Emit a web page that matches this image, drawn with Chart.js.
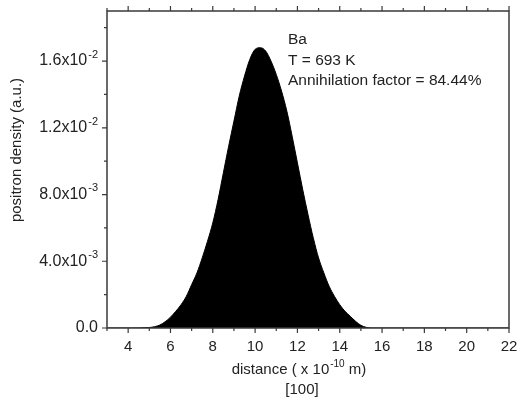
<!DOCTYPE html>
<html>
<head>
<meta charset="utf-8">
<script src="https://cdn.jsdelivr.net/npm/chart.js@4"></script>
<style>
  html, body { margin: 0; padding: 0; background: #fff; }
  #wrap { width: 519px; height: 405px; }
</style>
</head>
<body>
<div id="wrap"><canvas id="myChart"></canvas></div>
<script>
// Positron density profile along [100]
const distance = [3, 4, 5, 5.25, 5.5, 5.75, 6, 6.25, 6.5, 6.75, 7, 7.25, 7.5, 7.75, 8, 8.25, 8.5, 8.75,
	9, 9.25, 9.5, 9.75, 10, 10.25, 10.5, 10.75, 11, 11.25, 11.5, 11.75, 12, 12.25, 12.5, 12.75,
	13, 13.25, 13.5, 13.75, 14, 14.25, 14.5, 14.75, 15, 15.25, 15.5, 16, 18, 20, 22];
const density = [0, 0, 0.00003, 0.00008, 0.00018, 0.00038, 0.00065, 0.0010, 0.0014, 0.0019, 0.0026, 0.0033,
	0.0042, 0.0052, 0.0063, 0.0077, 0.0093, 0.0109, 0.0124, 0.0139, 0.0151, 0.0161, 0.0167, 0.0168,
	0.0166, 0.0160, 0.0152, 0.0142, 0.0130, 0.0115, 0.0099, 0.0083, 0.0068, 0.0054, 0.0042, 0.0033,
	0.0025, 0.0019, 0.0014, 0.0010, 0.0007, 0.0004, 0.00016, 0.00004, 0, 0, 0, 0, 0];

const xMajor = [4, 6, 8, 10, 12, 14, 16, 18, 20, 22];
const xMinor = [3, 5, 7, 9, 11, 13, 15, 17, 19, 21];
const yMajor = [0, 0.004, 0.008, 0.012, 0.016];
const yMajorLabels = [['0.0', ''], ['4.0x10', '-3'], ['8.0x10', '-3'], ['1.2x10', '-2'], ['1.6x10', '-2']];
const yMinor = [0.002, 0.006, 0.010, 0.014, 0.018];
const infoLines = ['Ba', 'T = 693 K', 'Annihilation factor = 84.44%'];

const FONT = '"Liberation Sans", Arial, sans-serif';
const AXIS = '#3a3a3a';
const TEXT = '#222';

// text with an optional superscript, anchored at its right end, left end or centre
function supText(ctx, x, y, base, sup, size, align, tail) {
	const small = Math.round(size * 0.68);
	ctx.font = size + 'px ' + FONT;
	const wb = ctx.measureText(base).width;
	ctx.font = small + 'px ' + FONT;
	const ws = sup ? ctx.measureText(sup).width + 1 : 0;
	ctx.font = size + 'px ' + FONT;
	const wt = tail ? ctx.measureText(tail).width : 0;
	const total = wb + ws + wt;
	let x0 = x;
	if (align === 'right') x0 = x - total;
	else if (align === 'center') x0 = x - total / 2;
	ctx.textAlign = 'left';
	ctx.textBaseline = 'middle';
	ctx.fillText(base, x0, y);
	if (sup) {
		ctx.font = small + 'px ' + FONT;
		ctx.fillText(sup, x0 + wb + 1, y - size * 0.38);
	}
	if (tail) {
		ctx.font = size + 'px ' + FONT;
		ctx.fillText(tail, x0 + wb + ws, y);
	}
}

const framePlugin = {
	id: 'frame',
	afterDatasetsDraw(chart) {
		const ctx = chart.ctx;
		const a = chart.chartArea;
		const xs = chart.scales.x;
		const ys = chart.scales.y;
		const midX = (a.left + a.right) / 2;
		ctx.save();
		ctx.strokeStyle = AXIS;
		ctx.lineWidth = 1.5;
		ctx.strokeRect(a.left, a.top, a.right - a.left, a.bottom - a.top);

		// tick marks: outward on bottom, top and left
		ctx.lineWidth = 1.2;
		ctx.beginPath();
		xMajor.forEach(v => {
			const px = xs.getPixelForValue(v);
			ctx.moveTo(px, a.bottom); ctx.lineTo(px, a.bottom + 5);
			ctx.moveTo(px, a.top); ctx.lineTo(px, a.top - 5);
		});
		xMinor.forEach(v => {
			const px = xs.getPixelForValue(v);
			ctx.moveTo(px, a.bottom); ctx.lineTo(px, a.bottom + 3);
			ctx.moveTo(px, a.top); ctx.lineTo(px, a.top - 3);
		});
		yMajor.forEach(v => {
			const py = ys.getPixelForValue(v);
			ctx.moveTo(a.left, py); ctx.lineTo(a.left - 5, py);
		});
		yMinor.forEach(v => {
			const py = ys.getPixelForValue(v);
			ctx.moveTo(a.left, py); ctx.lineTo(a.left - 3, py);
		});
		ctx.stroke();

		ctx.fillStyle = TEXT;
		xMajor.forEach(v => {
			supText(ctx, xs.getPixelForValue(v), a.bottom + 19, String(v), '', 15, 'center');
		});
		yMajor.forEach((v, i) => {
			const [base, sup] = yMajorLabels[i];
			supText(ctx, a.left - 9, ys.getPixelForValue(v), base, sup, 16, 'right');
		});

		// axis titles
		supText(ctx, midX - 9, a.bottom + 42, 'distance ( x 10', '-10', 15, 'center', ' m)');
		supText(ctx, midX - 6, a.bottom + 62, '[100]', '', 15, 'center');
		ctx.save();
		ctx.translate(17, 150);
		ctx.rotate(-Math.PI / 2);
		supText(ctx, 0, 0, 'positron density (a.u.)', '', 15, 'center');
		ctx.restore();

		// annotation block
		infoLines.forEach((t, i) => {
			supText(ctx, a.left + 181, a.top + 29 + i * 20.5, t, '', 15.5, 'left');
		});
		ctx.restore();
	}
};

const canvas = document.getElementById('myChart');

function loadChart(xArr, yArr) {
	const points = xArr.map((x, i) => ({ x: x, y: yArr[i] }));
	return new Chart(canvas, {
		type: 'line',
		data: {
			datasets: [{
				data: points,
				borderColor: '#000',
				backgroundColor: '#000',
				borderWidth: 1,
				pointRadius: 0,
				fill: 'origin',
				cubicInterpolationMode: 'monotone'
			}]
		},
		options: {
			responsive: true,
			maintainAspectRatio: false,
			animation: false,
			layout: { padding: { top: 11, right: 10, left: 0, bottom: 0 } },
			plugins: {
				legend: { display: false },
				tooltip: { enabled: false }
			},
			scales: {
				x: {
					type: 'linear',
					min: 3,
					max: 22,
					grid: { display: false },
					border: { display: false },
					ticks: { display: false },
					afterFit: s => { s.height = 77; }
				},
				y: {
					min: 0,
					max: 0.019,
					grid: { display: false },
					border: { display: false },
					ticks: { display: false },
					afterFit: s => { s.width = 107; }
				}
			}
		},
		plugins: [framePlugin]
	});
}

loadChart(distance, density);
</script>
</body>
</html>
